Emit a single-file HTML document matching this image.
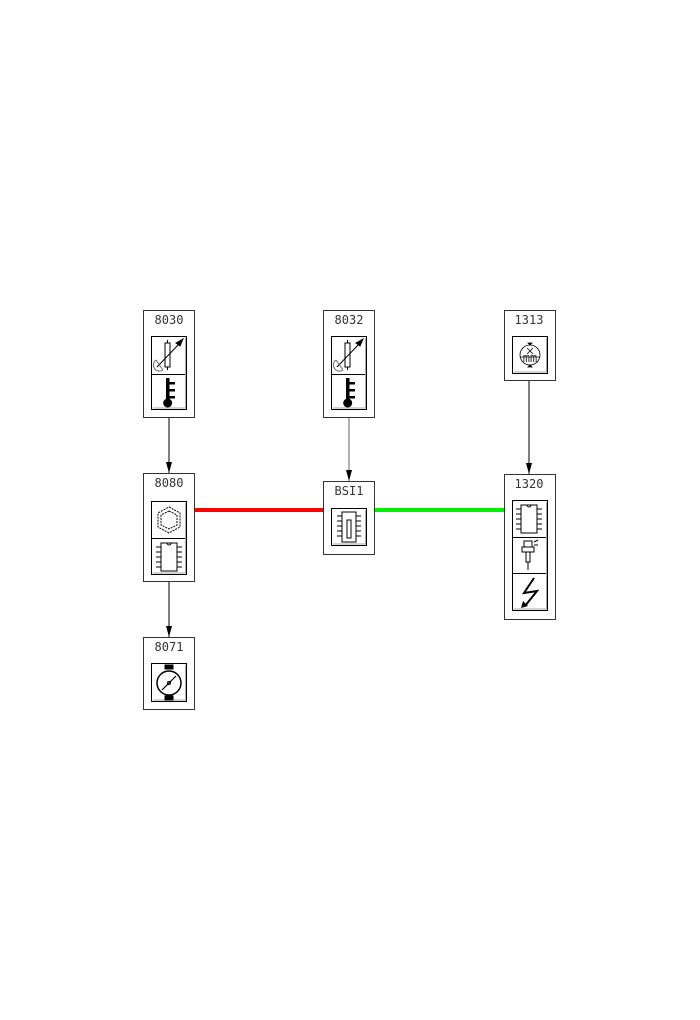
<!DOCTYPE html>
<html><head><meta charset="utf-8">
<style>html,body{margin:0;padding:0;background:#fff;}svg{display:block;}
text{font-family:"DejaVu Sans Mono","Liberation Mono",monospace;font-size:12px;fill:#333;}</style>
</head><body>
<svg width="700" height="1020" viewBox="0 0 700 1020" xmlns="http://www.w3.org/2000/svg">
<defs>
<marker id="ar" markerWidth="6" markerHeight="10" refX="3" refY="10" orient="auto" markerUnits="userSpaceOnUse">
<path d="M0,0 L3,10 L6,0 Z" fill="#000" transform="rotate(-90 3 5)"/>
</marker>
</defs>
<g stroke="#000" stroke-width="1" fill="none">
<line x1="169" y1="418" x2="169" y2="473"/>
<line x1="349" y1="418" x2="349" y2="481" stroke="#666"/>
<line x1="529" y1="381" x2="529" y2="474"/>
<line x1="169" y1="582" x2="169" y2="637"/>
</g>
<g fill="#000">
<path d="M166,462 L172,462 L169,473 Z"/>
<path d="M346,470 L352,470 L349,481 Z"/>
<path d="M526,463 L532,463 L529,474 Z"/>
<path d="M166,626 L172,626 L169,637 Z"/>
</g>
<line x1="195" y1="510" x2="323" y2="510" stroke="#f00" stroke-width="4"/>
<line x1="375" y1="510" x2="504" y2="510" stroke="#0e0" stroke-width="4"/>

<g fill="#fff" stroke="#333" stroke-width="1">
<rect x="143.5" y="310.5" width="51" height="107"/>
<rect x="323.5" y="310.5" width="51" height="107"/>
<rect x="504.5" y="310.5" width="51" height="70"/>
<rect x="143.5" y="473.5" width="51" height="108"/>
<rect x="323.5" y="481.5" width="51" height="73"/>
<rect x="504.5" y="474.5" width="51" height="145"/>
<rect x="143.5" y="637.5" width="51" height="72"/>
</g>
<text x="169" y="324" text-anchor="middle">8030</text>
<text x="349" y="324" text-anchor="middle">8032</text>
<text x="529" y="324" text-anchor="middle" font-size="11">1313</text>
<text x="169" y="487" text-anchor="middle">8080</text>
<text x="349" y="495" text-anchor="middle">BSI1</text>
<text x="529" y="488" text-anchor="middle">1320</text>
<text x="169" y="651" text-anchor="middle">8071</text>

<!-- icon cells -->
<g fill="none" stroke="#000" stroke-width="1">
<rect x="151.5" y="336.5" width="35" height="73"/><line x1="151" y1="374.5" x2="187" y2="374.5"/>
<rect x="331.5" y="336.5" width="35" height="73"/><line x1="331" y1="374.5" x2="367" y2="374.5"/>
<rect x="512.5" y="336.5" width="35" height="37"/>
<rect x="151.5" y="501.5" width="35" height="73"/><line x1="151" y1="538.5" x2="187" y2="538.5"/>
<rect x="331.5" y="508.5" width="35" height="37"/>
<rect x="512.5" y="500.5" width="35" height="110"/><line x1="512" y1="537.5" x2="548" y2="537.5"/><line x1="512" y1="573.5" x2="548" y2="573.5"/>
<rect x="151.5" y="663.5" width="35" height="38"/>
</g>
<g stroke="#aaa" stroke-width="1" fill="none">
<path d="M185.5,338 V408 H153"/><path d="M365.5,338 V408 H333"/><path d="M546.5,338 V372 H514"/>
<path d="M185.5,503 V573 H153"/><path d="M365.5,510 V544 H333"/><path d="M546.5,502 V609 H514"/><path d="M185.5,665 V700 H153"/>
</g>

<!-- resistor+gauge icon -->
<g id="res" stroke="#000" fill="none" stroke-width="1">
<rect x="165" y="343" width="5" height="24"/>
<line x1="167.5" y1="340" x2="167.5" y2="343"/><line x1="167.5" y1="367" x2="167.5" y2="370"/>
<line x1="157" y1="367" x2="180" y2="343"/>
<path d="M176,343 L183,339 L180,346 Z" fill="#000"/>
<path d="M156,360 A6,6 0 0 0 163,370" stroke="#666"/><line x1="156" y1="360" x2="163" y2="370" stroke="#666"/>
</g>
<use href="#res" x="180" y="0"/>
<!-- thermometer -->
<g id="th" fill="#000">
<rect x="166" y="378" width="3.5" height="24"/>
<circle cx="167.7" cy="403" r="4.5"/>
<rect x="169" y="382" width="6" height="2.5"/><rect x="169" y="389" width="6" height="2.5"/><rect x="169" y="396" width="6" height="2.5"/>
</g>
<use href="#th" x="180" y="0"/>
<!-- 1313 dial -->
<g stroke="#000" fill="none" stroke-width="0.8">
<circle cx="530" cy="355" r="10"/><line x1="520" y1="357" x2="540" y2="357"/>
<line x1="527" y1="348" x2="533" y2="354"/><line x1="533" y1="348" x2="527" y2="354"/>
<path d="M528,343 L532,343 L530,345 Z" fill="#000"/><path d="M528,367 L532,367 L530,365 Z" fill="#000"/>
</g>
<text x="530" y="362" font-size="5" text-anchor="middle" fill="#000">mm</text>
<!-- snowflake -->
<g stroke="#000" fill="none" stroke-width="1">
<polygon points="169,507 180,513 180,527 169,533 158,527 158,513" stroke-dasharray="2 1"/>
<polygon points="169,511 177,515 177,525 169,529 161,525 161,515" stroke-dasharray="2 1"/>
</g>
<!-- chips -->
<g id="chip" stroke="#000" fill="none" stroke-width="1">
<rect x="161" y="543" width="16" height="28"/>
<path d="M167,543 A2,2 0 0 0 171,543"/>
<path d="M156,547h5M156,552h5M156,557h5M156,562h5M156,567h5M177,547h5M177,552h5M177,557h5M177,562h5M177,567h5"/>
</g>
<use href="#chip" x="360" y="-38"/>
<g stroke="#000" fill="none" stroke-width="1">
<rect x="342" y="512" width="14" height="30"/><rect x="347" y="520" width="4" height="18"/>
<path d="M337,516h5M337,521h5M337,526h5M337,531h5M337,536h5M356,516h5M356,521h5M356,526h5M356,531h5M356,536h5"/>
</g>
<!-- injector -->
<g stroke="#000" fill="none" stroke-width="1">
<rect x="524" y="541" width="8" height="6"/><rect x="522" y="547" width="12" height="5"/>
<rect x="526" y="552" width="4" height="10"/><line x1="528" y1="562" x2="528" y2="570"/>
<path d="M534,542 L538,540 M534,545 L538,545"/>
</g>
<!-- lightning -->
<g stroke="#000" stroke-width="2" fill="none">
<path d="M534,578 L524,593 L537,591 L525,606"/>
</g>
<path d="M521,608 L528,606 L523,601 Z" fill="#000"/>
<!-- motor dial -->
<g stroke="#000" fill="none">
<rect x="165" y="665" width="8" height="4" fill="#000"/>
<rect x="165" y="696" width="8" height="4" fill="#000"/>
<circle cx="169" cy="683" r="12" stroke-width="1.5"/>
<line x1="162" y1="690" x2="176" y2="676" stroke-width="1.2"/>
<circle cx="169" cy="683" r="1.5"/>
</g>
</svg>
</body></html>
